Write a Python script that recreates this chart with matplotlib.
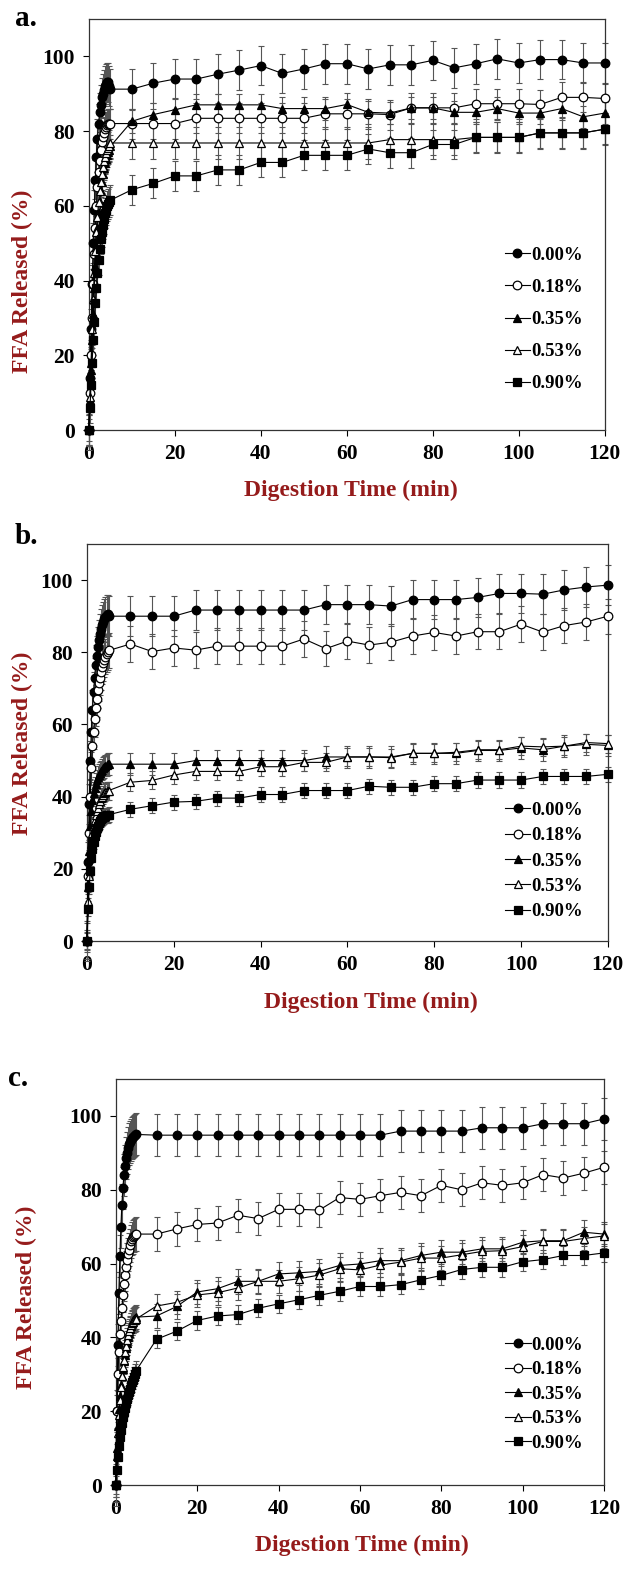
import numpy as np
import matplotlib
matplotlib.use('Agg')
import matplotlib.pyplot as plt

plt.rcParams['font.family'] = ['Liberation Serif', 'DejaVu Serif']
plt.rcParams['font.weight'] = 'bold'

# sampling times (min)
t_early = [0, 0.25, 0.5, 0.75, 1, 1.25, 1.5, 1.75, 2, 2.25, 2.5, 2.75, 3, 3.25, 3.5, 3.75, 4, 4.25, 4.5, 4.75, 5]
t_late = [10, 15, 20, 25, 30, 35, 40, 45, 50, 55, 60, 65, 70, 75, 80, 85, 90, 95, 100, 105, 110, 115, 120]

labels = ['0.00%', '0.18%', '0.35%', '0.53%', '0.90%']

# --- panel a ---
a_000 = [0, 14, 27, 39, 50, 59, 67, 73, 78, 82, 85, 87, 89, 90, 91, 92, 92.5, 93, 93, 92, 91.2,
         91.2, 92.8, 93.9, 93.9, 95.2, 96.3, 97.5, 95.4, 96.6, 98.0, 98.0, 96.6, 97.7, 97.7, 98.9, 96.9, 98.0, 99.3, 98.2, 99.1, 99.1, 98.2, 98.2]
a_018 = [0, 10, 20, 30, 39, 47, 54, 60, 65, 69, 72, 75, 77, 78.5, 79.5, 80.5, 81, 81.5, 82, 82, 82,
         82, 82, 82, 83.4, 83.4, 83.4, 83.4, 83.4, 83.4, 84.6, 84.6, 84.6, 84.4, 86.2, 86.2, 86.2, 87.3, 87.3, 87.3, 87.1, 89.0, 89.0, 88.7]
a_035 = [0, 8, 16, 24, 31, 38, 44, 49, 54, 58, 61, 64, 66.5, 68.5, 70, 71.5, 72.5, 73.5, 74.5, 75, 75.9,
         82.6, 84.4, 85.7, 87, 87, 87, 87, 86, 86, 86, 87.1, 85, 84.8, 86.2, 86.2, 85, 85, 86, 84.8, 84.8, 86, 83.8, 84.8]
a_053 = [0, 9, 18, 27, 35, 42, 48, 53, 57, 61, 64, 66.5, 68.5, 70.5, 72, 73, 74, 75, 75.5, 76, 76.8,
         76.8, 76.8, 76.8, 76.8, 76.8, 76.8, 76.8, 76.8, 76.8, 76.8, 76.8, 76.8, 77.7, 77.7, 77.7, 77.7, 78.3, 78.3, 78.3, 79.5, 79.5, 79.5, 80.5]
a_090 = [0, 6, 12, 18, 24, 29, 34, 38, 42, 45.5, 48.5, 51, 53, 55, 56.5, 58, 59, 60, 60.5, 61, 61.5,
         64.3, 66, 68, 68, 69.6, 69.6, 71.6, 71.6, 73.5, 73.5, 73.5, 75.2, 74.2, 74.2, 76.4, 76.4, 78.3, 78.3, 78.3, 79.5, 79.5, 79.5, 80.5]
a_sd = [5.3, 4.0, 3.0, 4.2, 4.0]

# --- panel b ---
b_000 = [0, 22, 38, 50, 58, 64, 69, 73, 76.5, 79, 81.5, 83.5, 85, 86.5, 87.5, 88.5, 89.2, 89.8, 90.3, 90.5, 90,
         90, 90, 90, 91.7, 91.7, 91.7, 91.7, 91.7, 91.7, 93.2, 93.2, 93.2, 92.8, 94.6, 94.6, 94.6, 95.2, 96.3, 96.3, 96.1, 97.3, 98.1, 98.6]
b_018 = [0, 18, 30, 40, 48, 54, 58, 61.5, 64.5, 67, 69.5, 71.5, 73, 74.5, 76, 77, 78, 78.8, 79.5, 80, 80.5,
         82.3, 80.2, 81.2, 80.6, 81.7, 81.7, 81.7, 81.7, 83.7, 81, 83.1, 82, 82.8, 84.5, 85.5, 84.5, 85.7, 85.7, 87.8, 85.6, 87.4, 88.4, 90]
b_035 = [0, 15, 25, 32, 36, 39, 41, 42.5, 43.5, 44.5, 45.5, 46, 46.5, 47, 47.5, 48, 48.3, 48.6, 48.8, 49, 49,
         49, 49, 49, 50, 50, 50, 50, 50, 50, 51, 51, 51, 51, 52, 52, 52, 52.8, 52.8, 53.5, 53, 54, 54.5, 54.2]
b_053 = [0, 11, 18, 23, 27, 30, 32, 33.5, 35, 36, 37, 38, 38.8, 39.5, 40, 40.5, 41, 41.3, 41.5, 41.6, 41.7,
         44, 44.5, 46, 47, 47, 47, 48.3, 48.3, 49.5, 49.5, 51, 51, 50.8, 52, 52, 52.3, 53, 53, 54, 53.8, 54, 55, 54.7]
b_090 = [0, 9, 15, 19.5, 23, 25.5, 27.5, 29, 30.3, 31.3, 32, 32.7, 33.2, 33.7, 34, 34.3, 34.5, 34.7, 34.8, 34.9, 35,
         36.5, 37.5, 38.5, 38.7, 39.6, 39.6, 40.6, 40.6, 41.7, 41.7, 41.7, 42.9, 42.6, 42.6, 43.6, 43.6, 44.6, 44.6, 44.6, 45.6, 45.6, 45.6, 46.2]
b_sd = [5.5, 4.9, 3.0, 2.5, 2.1]

# --- panel c ---
c_000 = [0, 20, 38, 52, 62, 70, 76, 80.5, 84, 86.5, 88.5, 90, 91.3, 92.3, 93, 93.6, 94, 94.4, 94.6, 94.8, 95,
         94.8, 94.8, 94.8, 94.8, 94.8, 94.8, 94.8, 94.8, 94.8, 94.8, 94.8, 94.8, 95.9, 95.9, 95.9, 95.9, 96.8, 96.8, 96.8, 97.9, 97.9, 97.9, 99.2]
c_018 = [0, 20, 30, 36, 41, 44.5, 48, 51.5, 54.5, 57, 59, 61, 62.5, 63.8, 65, 66, 66.7, 67.2, 67.6, 67.8, 68,
         68, 69.4, 70.6, 71, 73.1, 72.2, 74.7, 74.7, 74.5, 77.9, 77.4, 78.4, 79.3, 78.4, 81.2, 80, 81.9, 81.2, 81.9, 84.1, 83.2, 84.5, 86.1]
c_035 = [0, 10, 16, 20.5, 24, 27, 29.5, 31.5, 33.5, 35.3, 37, 38.5, 40, 41.2, 42.3, 43.2, 44, 44.6, 45, 45.3, 45.5,
         45.8, 48.4, 52.3, 53.2, 55.2, 55.2, 57.2, 57.5, 57.9, 59.5, 59.9, 60.8, 60.8, 62.2, 63.1, 63.1, 64, 64, 65.8, 66.2, 66.2, 68.5, 68]
c_053 = [0, 8, 14, 19, 23, 26.5, 29.5, 32, 34, 36, 37.8, 39.3, 40.6, 41.7, 42.6, 43.3, 43.9, 44.3, 44.6, 44.8, 45,
         48.5, 49.5, 51.5, 52.1, 53.4, 55.2, 55.2, 55.9, 56.9, 58.6, 58.3, 59.6, 60.4, 61.5, 61.5, 62.4, 63.3, 63.5, 64.6, 66, 66, 66.8, 67.5]
c_090 = [0, 4, 7.5, 10.5, 13, 15, 16.8, 18.4, 19.8, 21, 22.2, 23.3, 24.3, 25.2, 26.1, 27, 27.8, 28.6, 29.4, 30.2, 31,
         39.5, 41.7, 44.6, 45.8, 46.2, 47.9, 49.1, 50.2, 51.4, 52.5, 53.8, 53.8, 54.3, 55.6, 56.8, 58.4, 59, 59, 60.5, 61.1, 62.2, 62.2, 62.9]
c_sd = [5.7, 4.5, 3.3, 3.2, 2.5]

times = t_early + t_late
markers = [('o', 'black'), ('o', 'white'), ('^', 'black'), ('^', 'white'), ('s', 'black')]
label_red = '#951b1b'

fig = plt.figure(figsize=(6.26, 15.7), dpi=100)

# tag, series, sd, axes rect, legend (x, y) anchor, legend label spacing
panels = [
    ('a.', [a_000, a_018, a_035, a_053, a_090], a_sd, [0.142, 0.726, 0.824, 0.262], (0.957, 0.446), 0.80),
    ('b.', [b_000, b_018, b_035, b_053, b_090], b_sd, [0.139, 0.4006, 0.832, 0.2529], (0.952, 0.351), 0.44),
    ('c.', [c_000, c_018, c_035, c_053, c_090], c_sd, [0.185, 0.0541, 0.780, 0.2586], (0.957, 0.365), 0.39),
]
# y-label centre (fig px), x-label centre (fig px), panel letter position (fig px)
ylab_pos = [(22, 281), (22, 743), (26, 1297)]
xlab_pos = [(351, 490), (371, 1002), (362, 1545)]
letter_pos = [(15, 18), (15, 537), (8, 1078)]

W, H = 626, 1570
for k, (tag, series, sds, rect, leg_xy, leg_sp) in enumerate(panels):
    ax = fig.add_axes(rect)
    for s, (vals, sd) in enumerate(zip(series, sds)):
        m, fc = markers[s]
        ax.errorbar(times, vals, yerr=sd, fmt='none', ecolor='#555555', elinewidth=0.8,
                    capsize=2.3, capthick=0.8, zorder=2, clip_on=False)
        ax.plot(times, vals, marker=m, color='black', markerfacecolor=fc, markeredgecolor='black',
                markersize=6.2, markeredgewidth=0.9, linewidth=0.8, zorder=3 + s * 0.1,
                clip_on=False, label=labels[s])
    ax.set_xlim(0, 120)
    ax.set_ylim(0, 110)
    ax.set_xticks([0, 20, 40, 60, 80, 100, 120])
    ax.set_yticks([0, 20, 40, 60, 80, 100])
    ax.tick_params(direction='out', length=4, width=0.8, labelsize=15.5, pad=6)
    for lab in ax.get_xticklabels() + ax.get_yticklabels():
        lab.set_fontweight('bold')
    for sp in ax.spines.values():
        sp.set_linewidth(0.9)
        sp.set_color('#333333')
    ax.legend(loc='upper right', bbox_to_anchor=leg_xy, frameon=False,
              prop={'size': 13.5, 'weight': 'bold'}, handlelength=1.35, handletextpad=0.05,
              labelspacing=leg_sp, borderaxespad=0, borderpad=0)
    fig.text(ylab_pos[k][0] / W, 1 - ylab_pos[k][1] / H, 'FFA Released (%)', rotation=90,
             ha='center', va='center', fontsize=17, fontweight='bold', color=label_red)
    fig.text(xlab_pos[k][0] / W, 1 - xlab_pos[k][1] / H, 'Digestion Time (min)',
             ha='center', va='center', fontsize=17, fontweight='bold', color=label_red)
    fig.text(letter_pos[k][0] / W, 1 - letter_pos[k][1] / H, tag,
             ha='left', va='center', fontsize=21, fontweight='bold')

fig.savefig('out.png', dpi=100)
